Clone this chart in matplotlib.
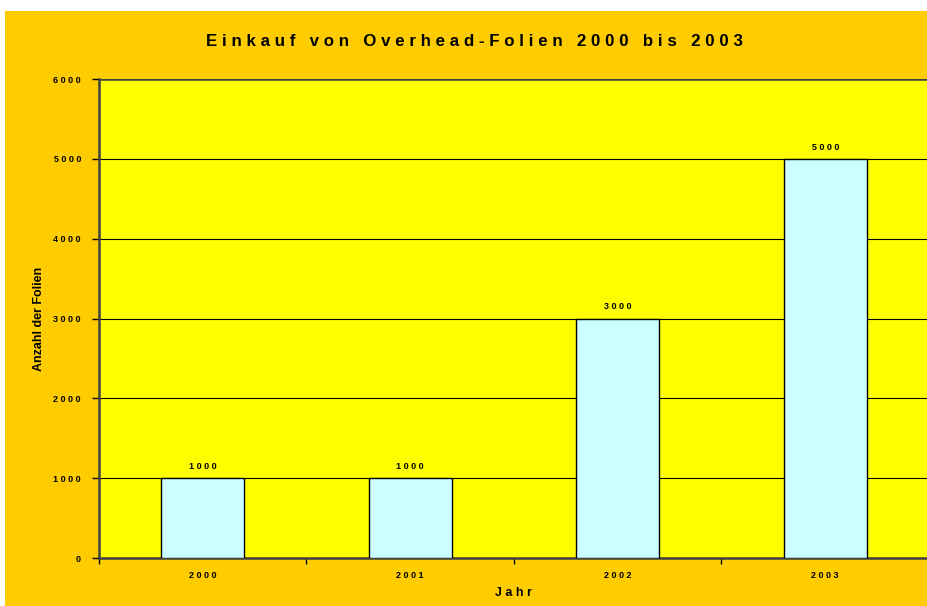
import matplotlib.pyplot as plt
from matplotlib.patches import Rectangle

# Data
years = ['2000', '2001', '2002', '2003']
counts = [1000, 1000, 3000, 5000]
y_ticks = [0, 1000, 2000, 3000, 4000, 5000, 6000]

title = 'Einkauf von Overhead-Folien 2000 bis 2003'
x_label = 'Jahr'
y_label = 'Anzahl der Folien'

orange = '#FFCC00'
yellow = '#FFFF00'
cyan = '#CCFFFF'


def spaced(s):
    # old Excel style letter spacing
    return ' '.join(s)


plt.rcParams['font.family'] = ['Liberation Sans', 'DejaVu Sans']
plt.rcParams['font.weight'] = 'bold'

fig = plt.figure(figsize=(9.28, 6.06), dpi=100)
fig.patch.set_facecolor('white')

# orange chart area (white margin top/left)
fig.patches.append(Rectangle((5 / 928, 0), 1, 1 - 11 / 606, transform=fig.transFigure,
                             facecolor=orange, edgecolor='none', zorder=-10))

ax = fig.add_axes([99 / 928, 1 - 558 / 606, 830 / 928, (558 - 79) / 606])
ax.set_facecolor(yellow)

x = list(range(len(years)))
bars = ax.bar(x, counts, width=0.4, color=cyan, edgecolor='black', linewidth=1.0, zorder=3)

for xi, v in zip(x, counts):
    ax.text(xi, v + 90, spaced(str(v)), ha='center', va='bottom', fontsize=6.5, fontweight='bold')

ax.set_xlim(-0.5, len(years) - 0.5)
ax.set_ylim(0, 6000)
ax.set_yticks(y_ticks)
ax.set_yticklabels([spaced(str(t)) for t in y_ticks], fontsize=6.5, fontweight='bold')
ax.set_xticks(x)
ax.set_xticklabels([spaced(y) for y in years], fontsize=6.5, fontweight='bold')
ax.set_xticks([i + 0.5 for i in range(-1, len(years))], minor=True)
ax.tick_params(axis='x', which='major', length=0, pad=9)
ax.tick_params(axis='x', which='minor', length=4, width=1, direction='out')
ax.tick_params(axis='y', length=5, width=1, direction='out', pad=8)

ax.grid(axis='y', color='black', linewidth=0.8, zorder=0)
ax.set_axisbelow(True)
ax.axhline(6000, color='#404040', linewidth=1.8, zorder=1)

for side in ['top', 'right']:
    ax.spines[side].set_visible(False)
for side in ['left', 'bottom']:
    ax.spines[side].set_color('#404040')
    ax.spines[side].set_linewidth(1.8)

ax.set_ylabel(y_label, fontsize=9, fontweight='bold', labelpad=6)

fig.text(513 / 928, 1 - 593 / 606, spaced(x_label), ha='center', va='center',
         fontsize=9, fontweight='bold')
fig.text(474 / 928, 1 - 41 / 606, spaced(title), ha='center', va='center',
         fontsize=12.2, fontweight='bold')

fig.savefig('out.png', dpi=100, facecolor=fig.get_facecolor())
